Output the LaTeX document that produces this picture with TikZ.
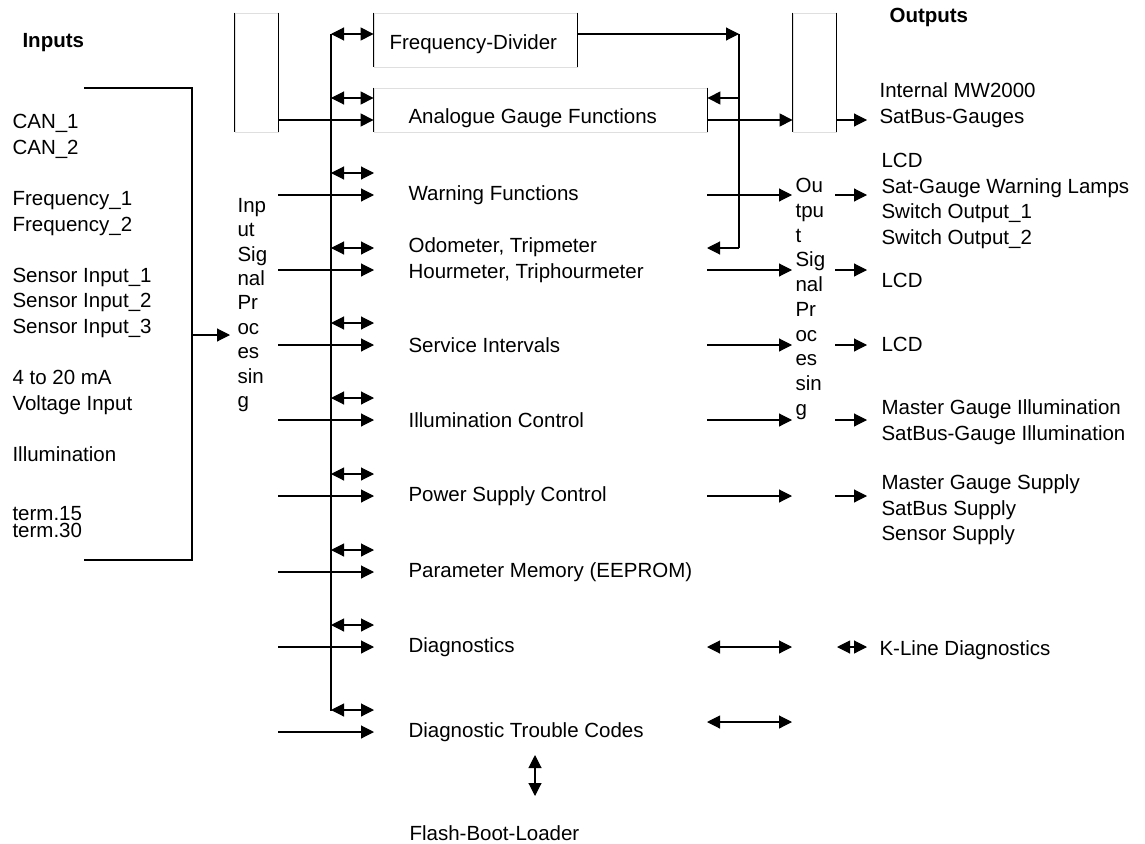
\documentclass[tikz,border=0pt]{standalone}
\usepackage{fontspec}
\setmainfont{Liberation Sans}
\usetikzlibrary{arrows.meta, positioning}

\begin{document}
\begin{tikzpicture}[x=1pt, y=-1pt, line width=1.1pt, >={Triangle[length=13pt,width=13pt]},
    lbl/.style={anchor=west, inner sep=0pt, align=left, font=\fontsize{20.5}{25.6}\selectfont},
    head/.style={lbl, font=\fontsize{20.5}{25.6}\selectfont\bfseries},
    frame/.style={draw=gray!25, line width=0.8pt, inner sep=0pt}]
  \useasboundingbox (0,0) rectangle (1145,843);

  % bars and boxes
  \node[frame, minimum width=43pt, minimum height=119pt] (inproc) at (256.5,72.5) {};
  \node[frame, minimum width=43pt, minimum height=119pt] (outproc) at (814.5,72.5) {};
  \node[frame, minimum width=203pt, minimum height=54pt] (freqdiv) at (475.5,40) {};
  \node[frame, minimum width=333pt, minimum height=44pt] (analog) at (540.5,110) {};
  \foreach \b in {inproc, outproc, freqdiv, analog} {
    \draw (\b.north west) -- (\b.south west);
    \draw (\b.north east) -- (\b.south east);
  }
  \node[lbl] (fdtext) at (389,44) {Frequency-Divider};
  \node[lbl] (agtext) at (408,118) {Analogue Gauge Functions};

  % headings and inputs
  \node[head] (ins) at (22,43) {Inputs};
  \node[head] (outs) at (889,17) {Outputs};
  \node[lbl] (inlist) at (12,288) {CAN\_1\\CAN\_2\\[25.6pt]Frequency\_1\\Frequency\_2\\[25.6pt]Sensor Input\_1\\Sensor Input\_2\\Sensor Input\_3\\[25.6pt]4 to 20 mA\\Voltage Input\\[25.6pt]Illumination};
  \node[lbl, font=\fontsize{20.5}{17}\selectfont] (term) at (12,522) {term.15\\term.30};
  \draw (84,88) -- (192,88) -- (192,560) -- (84,560);
  \draw[->] (192,335) -- (230,335);

  % signal processing texts
  \node[lbl, font=\fontsize{20.5}{24.4}\selectfont] (inptext) at (237,305) {Inp\\ut\\Sig\\nal\\Pr\\oc\\es\\sin\\g};
  \node[lbl, font=\fontsize{20.5}{24.7}\selectfont] (outptext) at (795,299) {Ou\\tpu\\t\\Sig\\nal\\Pr\\oc\\es\\sin\\g};

  % bus
  \draw (331,34) -- (331,711);
  \draw[<->] (331,34) -- (freqdiv.west |- 0,34);
  \draw[<->] (331,98) -- (analog.west |- 0,98);
  \draw[->] (inproc.east |- 0,120) -- (analog.west |- 0,120);

  % functions
  \foreach \n/\y/\t [evaluate=\y as \yd using \y-22] in {warn/195/{Warning Functions}, serv/345/{Service Intervals}, illum/420/{Illumination Control}, power/496/{Power Supply Control}, param/572/{Parameter Memory (EEPROM)}, diag/647/{Diagnostics}, dtc/732/{Diagnostic Trouble Codes}} {
    \node[lbl] (\n) at (408,\y) {\t};
    \draw[<->] (331,\yd) -- (374,\yd);
    \draw[->] (278,\y) -- (374,\y);
  }
  \node[lbl] (odo) at (408,260) {Odometer, Tripmeter\\Hourmeter, Triphourmeter};
  \draw[<->] (331,248) -- (374,248);
  \draw[->] (278,270) -- (374,270);

  \node[lbl] (flash) at (409,833) {Flash-Boot-Loader};
  \draw[<->] (535,755) -- (535,796);

  % feedback from frequency divider
  \draw[->] (freqdiv.east |- 0,34) -- (739,34);
  \draw (739,34) -- (739,248);
  \draw[->] (739,98) -- (analog.east |- 0,98);
  \draw[->] (739,248) -- (707,248);

  % outputs
  \draw[->] (analog.east |- 0,120) -- (outproc.west |- 0,120);
  \draw[->] (outproc.east |- 0,120) -- (867,120);
  \foreach \y in {195,270,345,420,496} {
    \draw[->] (707,\y) -- (792,\y);
    \draw[->] (835,\y) -- (867,\y);
  }
  \draw[<->] (707,647) -- (792,647);
  \draw[<->] (707,722) -- (792,722);
  \draw[<->] (837,647) -- (867,647);

  \node[lbl] (mw) at (879,105) {Internal MW2000\\SatBus-Gauges};
  \node[lbl] (lcd1) at (881,201) {LCD\\Sat-Gauge Warning Lamps\\Switch Output\_1\\Switch Output\_2};
  \node[lbl] (lcd2) at (881,280) {LCD};
  \node[lbl] (lcd3) at (881,344) {LCD};
  \node[lbl] (illout) at (881,422) {Master Gauge Illumination\\SatBus-Gauge Illumination};
  \node[lbl] (supout) at (881,510) {Master Gauge Supply\\SatBus Supply\\Sensor Supply};
  \node[lbl] (kline) at (879,650) {K-Line Diagnostics};
\end{tikzpicture}
\end{document}
